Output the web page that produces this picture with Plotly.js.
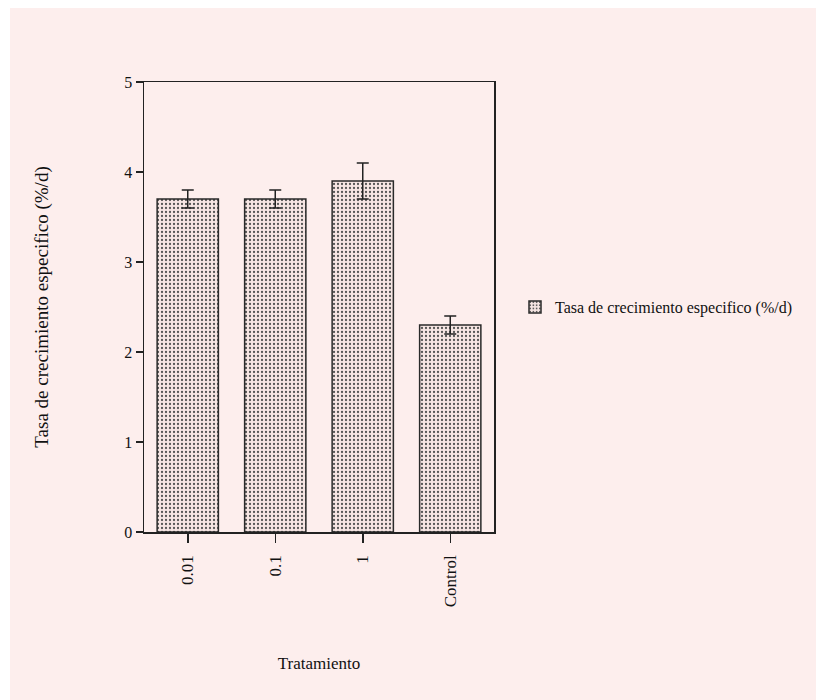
<!DOCTYPE html>
<html>
<head>
<meta charset="utf-8">
<script src="https://cdn.plot.ly/plotly-3.0.1.min.js"></script>
<style>
html,body{margin:0;padding:0;background:#ffffff;}
#chart{position:absolute;left:10px;top:8px;width:806px;height:692px;}
</style>
</head>
<body>
<div id="chart"></div>
<script>
const categories = ["0.01", "0.1", "1", "Control"];
const growthRate = [3.7, 3.7, 3.9, 2.3];
const growthErr = [0.1, 0.1, 0.2, 0.1];
const seriesName = "Tasa de crecimiento especifico (%/d)";

const serif = "Liberation Serif, Times New Roman, serif";

const trace = {
  type: "bar",
  x: categories,
  y: growthRate,
  name: seriesName,
  width: 0.7,
  showlegend: true,
  marker: {
    color: "#f7e6e4",
    line: {color: "#2a2a2a", width: 1.5},
    pattern: {shape: ".", fgcolor: "#555555", bgcolor: "#f7e6e4", size: 4, solidity: 0.25}
  },
  error_y: {type: "data", array: growthErr, visible: true, color: "#222222", thickness: 1.5, width: 6}
};

const layout = {
  width: 806,
  height: 692,
  paper_bgcolor: "#fdeeed",
  plot_bgcolor: "#fdeeed",
  margin: {l: 134, r: 322, t: 74, b: 168},
  font: {family: serif, color: "#111111", size: 16},
  showlegend: true,
  legend: {
    x: 1.06, y: 0.5, xanchor: "left", yanchor: "middle",
    bgcolor: "rgba(0,0,0,0)",
    font: {family: serif, size: 16, color: "#111111"}
  },
  xaxis: {
    type: "category",
    range: [-0.5, 3.5],
    showline: true, linecolor: "#222222", linewidth: 1.5, mirror: true,
    ticks: "outside", ticklen: 9, tickcolor: "#222222", tickwidth: 1.5,
    tickangle: -90,
    ticklabelstandoff: 6,
    tickfont: {family: serif, size: 17},
    showgrid: false, zeroline: false,
    title: {text: "Tratamiento", font: {family: serif, size: 17}, standoff: 51}
  },
  yaxis: {
    range: [0, 5],
    tickvals: [0, 1, 2, 3, 4, 5],
    showline: true, linecolor: "#222222", linewidth: 1.5, mirror: true,
    ticks: "outside", ticklen: 7, tickcolor: "#222222", tickwidth: 1.5,
    tickfont: {family: serif, size: 16},
    showgrid: false, zeroline: false,
    title: {text: seriesName, font: {family: serif, size: 19}, standoff: 70}
  },
  bargap: 0.3
};

Plotly.newPlot("chart", [trace], layout, {displayModeBar: false, staticPlot: true});
</script>
</body>
</html>
